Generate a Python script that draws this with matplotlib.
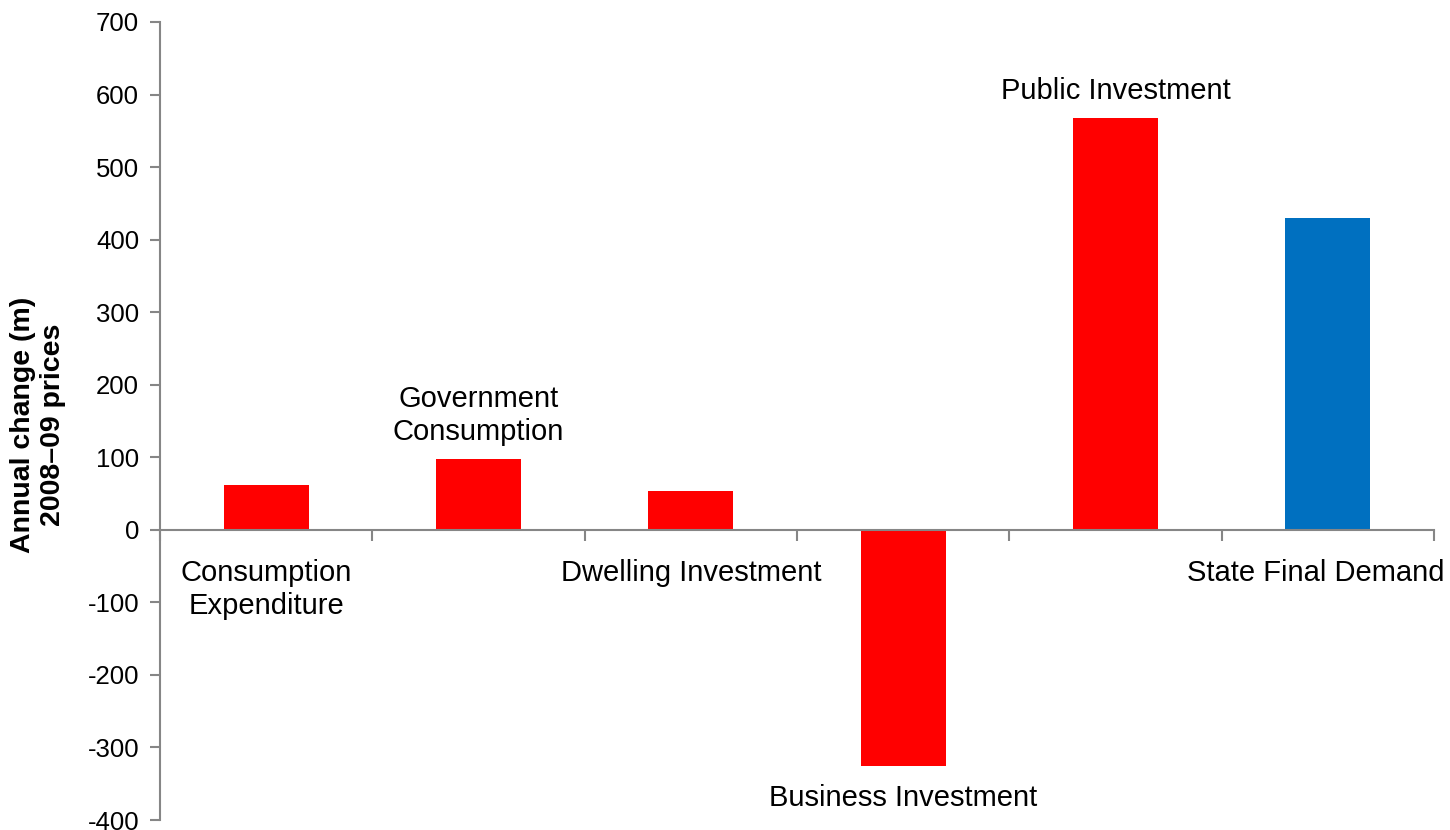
import matplotlib
matplotlib.use("Agg")
import matplotlib.pyplot as plt
import numpy as np

categories = ["Consumption\nExpenditure", "Government\nConsumption", "Dwelling Investment",
              "Business Investment", "Public Investment", "State Final Demand"]
values = [62, 98, 54, -325, 567, 430]
colors = ["#FF0000", "#FF0000", "#FF0000", "#FF0000", "#FF0000", "#0070C0"]
label_place = ["axis_below", "above", "axis_below", "below", "above", "axis_below"]
label_dx = [0, 0, 0, 0, 0, -12]
yticks = list(range(-400, 701, 100))

plt.rcParams['font.family'] = ['Liberation Sans', 'DejaVu Sans']
plt.rcParams['axes.unicode_minus'] = False

fig = plt.figure(figsize=(14.5, 8.3), dpi=100)
ax = fig.add_axes([160/1450, 1-820/830, (1434-160)/1450, (820-22)/830])

x = np.arange(len(values))
ax.bar(x, values, width=0.4, color=colors, zorder=2)
ax.set_xlim(-0.5, len(values) - 0.5)
ax.set_ylim(-400, 700)
ax.set_yticks(yticks)
ax.set_yticklabels([str(t) for t in yticks], fontsize=18.5)
ax.set_xticks(np.arange(-0.5, len(values), 1.0))
ax.set_xticklabels([])

axis_col = "#868686"
for s in ["top", "right"]:
    ax.spines[s].set_visible(False)
ax.spines["left"].set_color(axis_col)
ax.spines["bottom"].set_color(axis_col)
ax.spines["left"].set_linewidth(1.5)
ax.spines["bottom"].set_linewidth(1.5)
ax.spines["bottom"].set_position(("data", 0))
ax.tick_params(axis="y", direction="out", length=7, width=1.5, color=axis_col, pad=8)
ax.tick_params(axis="x", direction="out", length=8, width=1.5, color=axis_col)

fs = 21
ls = 1.22
for xi, v, lab, place, dx in zip(x, values, categories, label_place, label_dx):
    if place == "above":
        ax.annotate(lab, (xi, v), xytext=(dx, 13), textcoords="offset pixels",
                    ha="center", va="bottom", fontsize=fs, linespacing=ls)
    elif place == "below":
        ax.annotate(lab, (xi, v), xytext=(dx, -18), textcoords="offset pixels",
                    ha="center", va="top", fontsize=fs, linespacing=ls)
    else:
        ax.annotate(lab, (xi, 0), xytext=(dx, -29), textcoords="offset pixels",
                    ha="center", va="top", fontsize=fs, linespacing=ls)

fig.text(38/1450, 1-425/830, "Annual change (m)\n2008\u201309 prices", rotation=90,
         ha="center", va="center", fontsize=20.5, fontweight="bold", linespacing=1.15)

fig.savefig("out.png", dpi=100)
